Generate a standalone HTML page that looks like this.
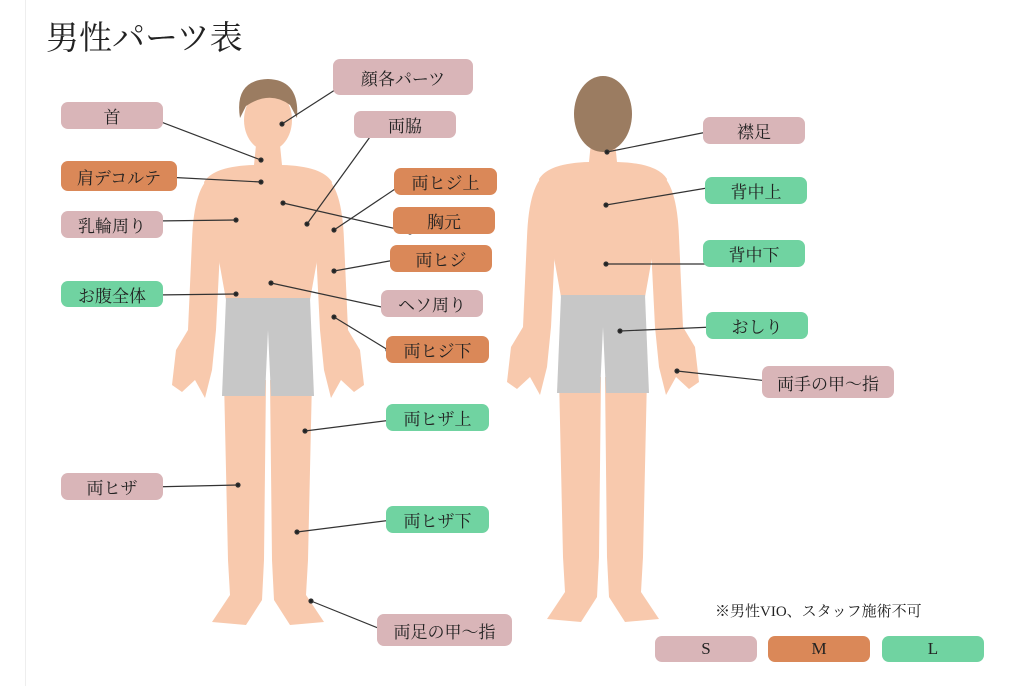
<!DOCTYPE html>
<html><head><meta charset="utf-8"><style>
html,body{margin:0;padding:0;background:#fff;}
body{width:1024px;height:686px;position:relative;overflow:hidden;font-family:"Liberation Serif","Noto Serif CJK SC",serif;}
.t{position:absolute;left:46px;top:12px;font-size:33px;color:#222;}
.b{position:absolute;border-radius:7px;font-size:17px;color:#222;display:flex;align-items:center;justify-content:center;box-sizing:border-box;}
.p{background:#d9b5b8}.o{background:#da8858}.g{background:#70d3a1}
.n{position:absolute;left:715px;top:600px;font-size:15px;color:#222;}
</style></head><body>
<div style="position:absolute;left:25px;top:0;width:1px;height:686px;background:#eee"></div>
<div class="t">男性パーツ表</div>
<svg width="1024" height="686" style="position:absolute;left:0;top:0">
<defs>
<g id="fig">
 <path d="M212 176 Q194 186 192 240 L188 330 L176 350 L172 385 L182 392 L195 380 L205 398 L212 370 L216 330 L220 250 Z" fill="#f8c9ad"/>
 <path d="M324 176 Q342 186 344 240 L348 330 L360 350 L364 385 L354 392 L341 380 L331 398 L324 370 L320 330 L316 250 Z" fill="#f8c9ad"/>
 <path d="M224 380 L266 380 L264 560 L262 600 L246 625 L212 622 L230 595 L228 560 Z" fill="#f8c9ad"/>
 <path d="M312 380 L270 380 L272 560 L274 600 L290 625 L324 622 L306 595 L308 560 Z" fill="#f8c9ad"/>
 <path d="M256 145 L280 145 L282 165 Q322 166 332 182 L318 255 L310 300 L226 300 L218 255 L204 182 Q214 166 254 165 Z" fill="#f8c9ad"/>
 <path d="M226 298 L310 298 L314 396 L271 396 L268 330 L265 396 L222 396 Z" fill="#c7c7c7"/>
</g>
</defs>
<use href="#fig"/>
<use href="#fig" x="335" y="-3"/>
<ellipse cx="268" cy="120" rx="24" ry="31" fill="#f8c9ad"/>
<path d="M240 118 Q234 80 268 79 Q300 80 297 118 L290 105 Q270 90 246 106 Z" fill="#9b7c61"/>
<ellipse cx="603" cy="114" rx="29" ry="38" fill="#9b7c61"/>
<g stroke="#333" stroke-width="1.2" fill="#222">
<line x1="148" y1="117" x2="261" y2="160"/><circle cx="148" cy="117" r="2"/><circle cx="261" cy="160" r="2"/>
<line x1="352" y1="79" x2="282" y2="124"/><circle cx="352" cy="79" r="2"/><circle cx="282" cy="124" r="2"/>
<line x1="375" y1="130" x2="307" y2="224"/><circle cx="375" cy="130" r="2"/><circle cx="307" cy="224" r="2"/>
<line x1="165" y1="177" x2="261" y2="182"/><circle cx="165" cy="177" r="2"/><circle cx="261" cy="182" r="2"/>
<line x1="404" y1="183" x2="334" y2="230"/><circle cx="404" cy="183" r="2"/><circle cx="334" cy="230" r="2"/>
<line x1="410" y1="232" x2="283" y2="203"/><circle cx="410" cy="232" r="2"/><circle cx="283" cy="203" r="2"/>
<line x1="154" y1="221" x2="236" y2="220"/><circle cx="154" cy="221" r="2"/><circle cx="236" cy="220" r="2"/>
<line x1="395" y1="260" x2="334" y2="271"/><circle cx="395" cy="260" r="2"/><circle cx="334" cy="271" r="2"/>
<line x1="154" y1="295" x2="236" y2="294"/><circle cx="154" cy="295" r="2"/><circle cx="236" cy="294" r="2"/>
<line x1="386" y1="308" x2="271" y2="283"/><circle cx="386" cy="308" r="2"/><circle cx="271" cy="283" r="2"/>
<line x1="388" y1="350" x2="334" y2="317"/><circle cx="388" cy="350" r="2"/><circle cx="334" cy="317" r="2"/>
<line x1="392" y1="420" x2="305" y2="431"/><circle cx="392" cy="420" r="2"/><circle cx="305" cy="431" r="2"/>
<line x1="150" y1="487" x2="238" y2="485"/><circle cx="150" cy="487" r="2"/><circle cx="238" cy="485" r="2"/>
<line x1="392" y1="520" x2="297" y2="532"/><circle cx="392" cy="520" r="2"/><circle cx="297" cy="532" r="2"/>
<line x1="383" y1="630" x2="311" y2="601"/><circle cx="383" cy="630" r="2"/><circle cx="311" cy="601" r="2"/>
<line x1="712" y1="131" x2="607" y2="152"/><circle cx="712" cy="131" r="2"/><circle cx="607" cy="152" r="2"/>
<line x1="713" y1="187" x2="606" y2="205"/><circle cx="713" cy="187" r="2"/><circle cx="606" cy="205" r="2"/>
<line x1="712" y1="264" x2="606" y2="264"/><circle cx="712" cy="264" r="2"/><circle cx="606" cy="264" r="2"/>
<line x1="713" y1="327" x2="620" y2="331"/><circle cx="713" cy="327" r="2"/><circle cx="620" cy="331" r="2"/>
<line x1="768" y1="381" x2="677" y2="371"/><circle cx="768" cy="381" r="2"/><circle cx="677" cy="371" r="2"/>
</g>
</svg>
<div class="b p" style="left:333px;top:59px;width:140px;height:36px">顔各パーツ</div>
<div class="b p" style="left:61px;top:102px;width:102px;height:27px">首</div>
<div class="b p" style="left:354px;top:111px;width:102px;height:27px">両脇</div>
<div class="b o" style="left:61px;top:161px;width:116px;height:30px">肩デコルテ</div>
<div class="b o" style="left:394px;top:168px;width:103px;height:27px">両ヒジ上</div>
<div class="b p" style="left:61px;top:211px;width:102px;height:27px">乳輪周り</div>
<div class="b o" style="left:393px;top:207px;width:102px;height:27px">胸元</div>
<div class="b o" style="left:390px;top:245px;width:102px;height:27px">両ヒジ</div>
<div class="b g" style="left:61px;top:281px;width:102px;height:26px">お腹全体</div>
<div class="b p" style="left:381px;top:290px;width:102px;height:27px">ヘソ周り</div>
<div class="b o" style="left:386px;top:336px;width:103px;height:27px">両ヒジ下</div>
<div class="b g" style="left:386px;top:404px;width:103px;height:27px">両ヒザ上</div>
<div class="b p" style="left:61px;top:473px;width:102px;height:27px">両ヒザ</div>
<div class="b g" style="left:386px;top:506px;width:103px;height:27px">両ヒザ下</div>
<div class="b p" style="left:377px;top:614px;width:135px;height:32px">両足の甲〜指</div>
<div class="b p" style="left:703px;top:117px;width:102px;height:27px">襟足</div>
<div class="b g" style="left:705px;top:177px;width:102px;height:27px">背中上</div>
<div class="b g" style="left:703px;top:240px;width:102px;height:27px">背中下</div>
<div class="b g" style="left:706px;top:312px;width:102px;height:27px">おしり</div>
<div class="b p" style="left:762px;top:366px;width:132px;height:32px">両手の甲〜指</div>
<div class="n">※男性VIO、スタッフ施術不可</div>
<div class="b p" style="left:655px;top:636px;width:102px;height:26px">S</div>
<div class="b o" style="left:768px;top:636px;width:102px;height:26px">M</div>
<div class="b g" style="left:882px;top:636px;width:102px;height:26px">L</div>
</body></html>
